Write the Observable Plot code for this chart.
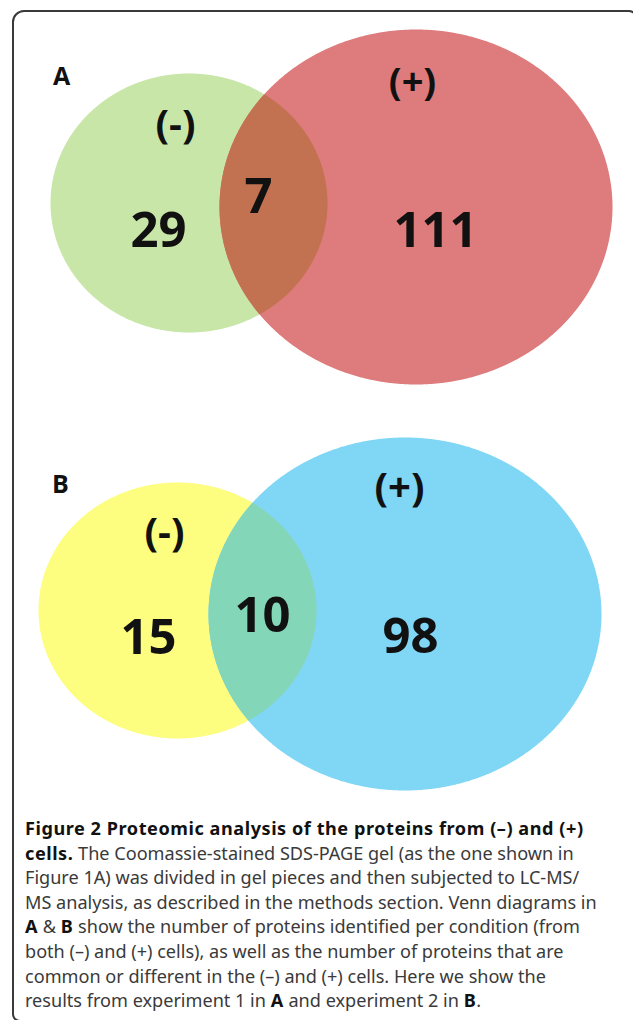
<!DOCTYPE html>
<html><head><meta charset="utf-8">
<script src="https://cdn.jsdelivr.net/npm/d3@7"></script>
<script src="https://cdn.jsdelivr.net/npm/@observablehq/plot@0.6"></script>
<style>
html,body{margin:0;padding:0;background:#fff;width:633px;height:1020px;overflow:hidden;position:relative;}
#frame{position:absolute;left:12px;top:10px;width:625px;height:1012px;border:2px solid #3a3a3a;border-top-left-radius:12px;border-top-right-radius:8px;border-bottom-left-radius:8px;box-sizing:border-box;}
#chart{position:absolute;left:0;top:0;}
#caption{position:absolute;left:25px;top:816px;font-family:"Noto Sans",sans-serif;font-size:18.5px;line-height:24.6px;color:#3a3a3a;white-space:nowrap;}
#caption b{color:#111;font-weight:700;letter-spacing:0.55px}
</style></head><body>
<div id="frame"></div><div id="chart"></div><div id="caption"></div>
<script>
// ---- data ----
const panels = ["A", "B"];
const groups = ["(-)", "(+)"];
const regions = ["only (-)", "both", "only (+)"];
const countsA = [29, 7, 111];
const countsB = [15, 10, 98];
const fillsA = ["#c9e6a9", "#c27251", "#de7b7c"]; // (-), overlap, (+)
const fillsB = ["#fdfd80", "#84d6b9", "#80d6f5"];
const captionLines = [
  "<b>Figure 2 Proteomic analysis of the proteins from (–) and (+)</b>",
  "<b>cells.</b> The Coomassie-stained SDS-PAGE gel (as the one shown in",
  "Figure 1A) was divided in gel pieces and then subjected to LC-MS/",
  "MS analysis, as described in the methods section. Venn diagrams in",
  "<b>A</b> &amp; <b>B</b> show the number of proteins identified per condition (from",
  "both (–) and (+) cells), as well as the number of proteins that are",
  "common or different in the (–) and (+) cells. Here we show the",
  "results from experiment 1 in <b>A</b> and experiment 2 in <b>B</b>."
];

// ---- layout (pixel units of the plot's identity scales) ----
const layout = {
  A: {
    left:  {cx: 188.5, cy: 202.5, rx: 138.5, ry: 129.5},
    right: {cx: 415.5, cy: 206.5, rx: 196.5, ry: 177.5},
    panelPos: [61, 76],
    groupPos: [[175, 125], [412, 82]],
    groupSize: [40, 38],
    countPos: [[158, 231], [258, 197], [435, 231]]
  },
  B: {
    left:  {cx: 177, cy: 610, rx: 139, ry: 128},
    right: {cx: 404.5, cy: 613.5, rx: 196.5, ry: 176.5},
    panelPos: [60, 484],
    groupPos: [[164, 533], [399, 488]],
    groupSize: [40, 40],
    countPos: [[148, 638], [262, 616], [410, 637]]
  }
};
const W = 633, H = 800;
const N = 1440;

function outline(e, t0) {
  return d3.range(N + 1).map(i => {
    const t = t0 + (2 * Math.PI * i) / N;
    return {x: e.cx + e.rx * Math.cos(t), y: e.cy + e.ry * Math.sin(t)};
  });
}
const inside = (p, e) => ((p.x - e.cx) / e.rx) ** 2 + ((p.y - e.cy) / e.ry) ** 2 <= 1;
function lens(L, R) {
  const a = outline(L, -Math.PI).filter(p => inside(p, R));
  const b = outline(R, 0).filter(p => inside(p, L));
  return a.concat(b);
}

const marks = [];
const texts = [];
panels.forEach((p, k) => {
  const g = layout[p];
  const counts = k === 0 ? countsA : countsB;
  const fills = k === 0 ? fillsA : fillsB;
  marks.push(Plot.line(outline(g.left, 0), {x: "x", y: "y", fill: fills[0], stroke: "none"}));
  marks.push(Plot.line(outline(g.right, 0), {x: "x", y: "y", fill: fills[2], stroke: "none"}));
  marks.push(Plot.line(lens(g.left, g.right), {x: "x", y: "y", fill: fills[1], stroke: "none"}));
  texts.push({x: g.panelPos[0], y: g.panelPos[1], text: p, size: 25});
  groups.forEach((gr, j) => texts.push({x: g.groupPos[j][0], y: g.groupPos[j][1], text: gr, size: g.groupSize[j]}));
  regions.forEach((r, j) => texts.push({x: g.countPos[j][0], y: g.countPos[j][1], text: String(counts[j]), size: 49}));
});
marks.push(Plot.text(texts, {
  x: "x", y: "y", text: "text", fontSize: d => d.size, fill: "#111",
  fontWeight: "bold", fontFamily: "Open Sans", textAnchor: "middle", lineAnchor: "middle"
}));

const chart = Plot.plot({
  width: W, height: H, margin: 0,
  x: {type: "linear", domain: [0, W], range: [0, W], axis: null},
  y: {type: "linear", domain: [0, H], range: [0, H], axis: null},
  style: {background: "transparent", overflow: "visible"},
  marks
});
document.getElementById("chart").appendChild(chart);

const cap = document.getElementById("caption");
cap.innerHTML = captionLines.map(l => `<div><span>${l}</span></div>`).join("");
// fit caption font so the all-regular line 4 spans the same width as in the reference
const target = 572;
const pw = cap.children[3].firstChild.getBoundingClientRect().width;
cap.style.fontSize = (18.5 * target / pw).toFixed(2) + "px";
</script></body></html>
